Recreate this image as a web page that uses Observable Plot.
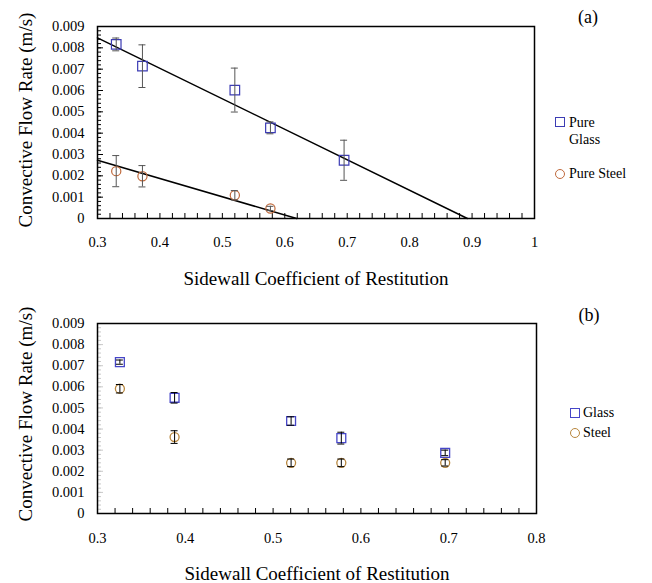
<!DOCTYPE html>
<html><head><meta charset="utf-8">
<script src="https://cdn.jsdelivr.net/npm/d3@7"></script>
<script src="https://cdn.jsdelivr.net/npm/@observablehq/plot@0.6"></script>
<style>
body{margin:0;background:#fff;color:#000;}
#wrap, #wrap div, #wrap svg, #wrap svg text{font-family:'Liberation Serif' !important;}
#wrap{position:relative;width:652px;height:583px;overflow:hidden;}
.panel{position:absolute;left:0;}
.t{position:absolute;white-space:nowrap;transform:translate(-50%,-50%);line-height:1;}
.lg{position:absolute;white-space:nowrap;font-size:14px;line-height:1;transform:translateY(-50%);}
.mk{position:absolute;box-sizing:border-box;transform:translate(-50%,-50%);}
</style></head><body><div id="wrap"></div>
<script>
// ---------- data: panel (a) ----------
const glassA_x = [0.33, 0.372, 0.52, 0.577, 0.695];
const glassA_y = [0.00816, 0.00714, 0.00602, 0.00425, 0.00273];
const glassA_err = [0.0003, 0.001, 0.00103, 0.00028, 0.00094];
const steelA_x = [0.33, 0.372, 0.52, 0.577];
const steelA_y = [0.00222, 0.00198, 0.00109, 0.00047];
const steelA_err = [0.00073, 0.0005, 0.00022, 0.0001];
const glassFit_x = [0.3, 0.8925];
const glassFit_y = [0.00847, 0];
const steelFit_x = [0.3, 0.619];
const steelFit_y = [0.00273, 0];
// ---------- data: panel (b) ----------
const glassB_x = [0.3255, 0.3878, 0.5205, 0.5777, 0.696];
const glassB_y = [0.00717, 0.00548, 0.00438, 0.00357, 0.00287];
const glassB_err = [0.0001, 0.00025, 0.0002, 0.00028, 0.00013];
const steelB_x = [0.3255, 0.3878, 0.5205, 0.5777, 0.696];
const steelB_y = [0.00591, 0.00362, 0.0024, 0.0024, 0.0024];
const steelB_err = [0.0002, 0.0003, 0.00018, 0.00018, 0.00015];
// ---------- tick labels ----------
const xTicksA = [0.3, 0.4, 0.5, 0.6, 0.7, 0.8, 0.9, 1];
const xTicksB = [0.3, 0.4, 0.5, 0.6, 0.7, 0.8];
const yTicks = [0, 0.001, 0.002, 0.003, 0.004, 0.005, 0.006, 0.007, 0.008, 0.009];
const yTitle = "Convective Flow Rate (m/s)";
const xTitle = "Sidewall Coefficient of Restitution";

const rows = (xs, ys, es) => xs.map((x, i) => ({x, y: ys[i], lo: ys[i] - es[i], hi: ys[i] + es[i]}));
const fitRows = (xs, ys) => xs.map((x, i) => ({x, y: ys[i]}));
const fmtX = d => String(+d.toFixed(1));
const fmtY = d => d === 0 ? "0" : d3.format(".3f")(d);
const minor = (a, b, s) => d3.range(Math.round((b - a) / s) + 1).map(i => +(a + i * s).toFixed(6));

function errMarks(data, color) {
  return [
    Plot.ruleX(data, {x: "x", y1: "lo", y2: "hi", stroke: color, strokeWidth: 1}),
    Plot.ruleY(data, {x1: "x", x2: "x", y: "lo", insetLeft: -3.5, insetRight: -3.5, stroke: color}),
    Plot.ruleY(data, {x1: "x", x2: "x", y: "hi", insetLeft: -3.5, insetRight: -3.5, stroke: color})
  ];
}

const style = {fontFamily: "Liberation Serif", fontSize: "14.5px", background: "transparent", overflow: "visible", color: "#000"};

// Panel (a)
const gA = rows(glassA_x, glassA_y, glassA_err);
const sA = rows(steelA_x, steelA_y, steelA_err);
const plotA = Plot.plot({
  width: 652, height: 290,
  marginLeft: 97, marginRight: 118, marginTop: 26, marginBottom: 72,
  style,
  x: {domain: [0.3, 1]},
  y: {domain: [0, 0.009]},
  marks: [
    Plot.axisX(minor(0.3, 1, 0.02), {tickSize: -5, fill: "none", label: null, stroke: "#000"}),
    Plot.axisX(xTicksA, {tickSize: 0, tickPadding: 18, tickFormat: fmtX, label: null}),
    Plot.axisY(minor(0, 0.009, 0.0002), {tickSize: -4, fill: "none", label: null, stroke: "#000"}),
    Plot.axisY(yTicks, {tickSize: -6, fill: "none", label: null, stroke: "#000"}),
    Plot.axisY(yTicks, {tickSize: 0, tickPadding: 13, tickFormat: fmtY, label: null}),
    Plot.line(fitRows(glassFit_x, glassFit_y), {x: "x", y: "y", stroke: "#000", strokeWidth: 1.5}),
    Plot.line(fitRows(steelFit_x, steelFit_y), {x: "x", y: "y", stroke: "#000", strokeWidth: 1.5}),
    Plot.dot(gA, {x: "x", y: "y", symbol: "square", r: 5.4, stroke: "#3c3cb4", strokeWidth: 1.2}),
    Plot.dot(sA, {x: "x", y: "y", symbol: "circle", r: 4.6, stroke: "#c06a3c", strokeWidth: 1.2}),
    ...errMarks(gA, "#555"),
    ...errMarks(sA, "#555"),
    Plot.frame({stroke: "#000", strokeWidth: 1.5})
  ]
});

// Panel (b)
const gB = rows(glassB_x, glassB_y, glassB_err);
const sB = rows(steelB_x, steelB_y, steelB_err);
const plotB = Plot.plot({
  width: 652, height: 293,
  marginLeft: 97, marginRight: 116, marginTop: 33, marginBottom: 70,
  style,
  x: {domain: [0.3, 0.8]},
  y: {domain: [0, 0.009]},
  marks: [
    Plot.axisX(minor(0.3, 0.8, 0.02), {tickSize: -5, fill: "none", label: null, stroke: "#000"}),
    Plot.axisX(xTicksB, {tickSize: 0, tickPadding: 19, tickFormat: fmtX, label: null}),
    Plot.axisY(minor(0, 0.009, 0.0002), {tickSize: -4, fill: "none", label: null, stroke: "#c8c8c8"}),
    Plot.axisY(yTicks, {tickSize: -6, fill: "none", label: null, stroke: "#c8c8c8"}),
    Plot.axisY(yTicks, {tickSize: 0, tickPadding: 13, tickFormat: fmtY, label: null}),
    Plot.dot(gB, {x: "x", y: "y", symbol: "square", r: 5, stroke: "#4646c8", strokeWidth: 1.3}),
    Plot.dot(sB, {x: "x", y: "y", symbol: "circle", r: 4.5, stroke: "#b8863c", strokeWidth: 1.3}),
    ...errMarks(gB, "#000"),
    ...errMarks(sB, "#000"),
    Plot.frame({stroke: "#000", strokeWidth: 1.5})
  ]
});

const wrap = document.getElementById("wrap");
plotA.classList.add("panel"); plotA.style.top = "0px";
plotB.classList.add("panel"); plotB.style.top = "290px";
wrap.appendChild(plotA);
wrap.appendChild(plotB);

function addText(cls, txt, left, top, extra) {
  const d = document.createElement("div");
  d.className = cls; d.innerHTML = txt;
  d.style.left = left + "px"; d.style.top = top + "px";
  if (extra) Object.assign(d.style, extra);
  wrap.appendChild(d);
  return d;
}
function addMarker(kind, cx, cy, color) {
  const d = document.createElement("div");
  d.className = "mk";
  d.style.left = cx + "px"; d.style.top = cy + "px";
  d.style.width = "10px"; d.style.height = "10px";
  d.style.border = "1.2px solid " + color;
  if (kind === "circle") d.style.borderRadius = "50%";
  wrap.appendChild(d);
}
// titles
addText("t", yTitle, 25, 120, {fontSize: "19px", transform: "translate(-50%,-50%) rotate(-90deg)"});
addText("t", xTitle, 316, 278, {fontSize: "19px"});
addText("t", yTitle, 25, 414, {fontSize: "19px", transform: "translate(-50%,-50%) rotate(-90deg)"});
addText("t", xTitle, 317, 573, {fontSize: "19px"});
addText("t", "(a)", 588, 17, {fontSize: "18px"});
addText("t", "(b)", 589, 315, {fontSize: "18px"});
// legend (a)
addMarker("square", 560, 122, "#3c3cb4");
addText("lg", "Pure<br>Glass", 569, 131, {lineHeight: "17px"});
addMarker("circle", 560, 174, "#c06a3c");
addText("lg", "Pure Steel", 569, 174);
// legend (b)
addMarker("square", 575, 413, "#4646c8");
addText("lg", "Glass", 583, 413);
addMarker("circle", 575, 433, "#b8863c");
addText("lg", "Steel", 583, 433);
</script>
</body></html>
